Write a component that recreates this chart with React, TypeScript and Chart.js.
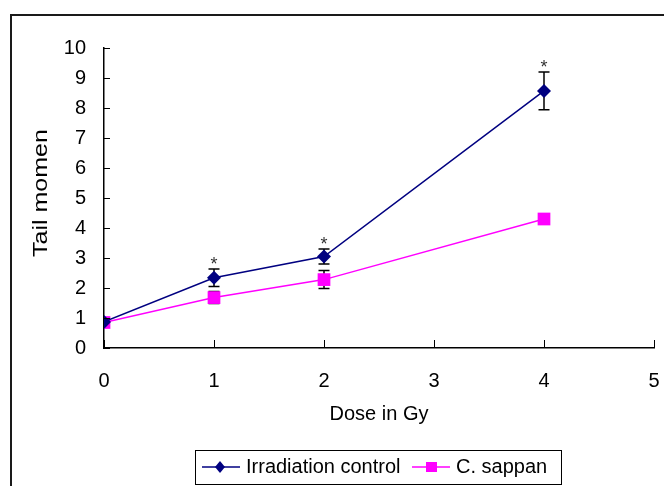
import React, { useEffect, useRef } from "react";
import { Chart, registerables } from "chart.js";

Chart.register(...registerables);

const doses = [0, 1, 2, 4];
const controlValues = [0.87, 2.34, 3.05, 8.57];
const controlErrors = [0, 0.29, 0.25, 0.63];
const controlSignificant = [false, true, true, true];
const sappanValues = [0.85, 1.68, 2.28, 4.3];
const sappanErrors = [0, 0.2, 0.3, 0.15];
const yTicks = [0, 1, 2, 3, 4, 5, 6, 7, 8, 9, 10];
const xTicks = [0, 1, 2, 3, 4, 5];
const seriesNames = ["Irradiation control", "C. sappan"];
const xTitle = "Dose in Gy";
const yTitle = "Tail momen";

const FONT = "'Liberation Sans', Arial, sans-serif";
const NAVY = "#000080";
const MAGENTA = "#FF00FF";

const errorsByDataset = [controlErrors, sappanErrors];

const overlayPlugin = {
  id: "overlay",
  beforeDraw(chart: any) {
    const ctx = chart.ctx;
    ctx.save();
    ctx.fillStyle = "#fff";
    ctx.fillRect(0, 0, chart.width, chart.height);
    ctx.restore();
  },
  beforeDatasetsDraw(chart: any) {
    const ctx = chart.ctx;
    const xs = chart.scales.x;
    const ys = chart.scales.y;
    ctx.save();
    ctx.strokeStyle = "#000";
    ctx.lineWidth = 1.5;
    chart.data.datasets.forEach((ds: any, di: number) => {
      const errs = errorsByDataset[di];
      ds.data.forEach((p: any, i: number) => {
        const e = errs[i];
        if (!e) return;
        const px = xs.getPixelForValue(p.x);
        const top = ys.getPixelForValue(p.y + e);
        const bot = ys.getPixelForValue(p.y - e);
        ctx.beginPath();
        ctx.moveTo(px, top);
        ctx.lineTo(px, bot);
        ctx.moveTo(px - 5.5, top);
        ctx.lineTo(px + 5.5, top);
        ctx.moveTo(px - 5.5, bot);
        ctx.lineTo(px + 5.5, bot);
        ctx.stroke();
      });
    });
    ctx.restore();
  },
  afterDraw(chart: any) {
    const ctx = chart.ctx;
    const xs = chart.scales.x;
    const ys = chart.scales.y;
    const area = chart.chartArea;
    ctx.save();
    ctx.strokeStyle = "#000";
    ctx.lineWidth = 1;
    yTicks.forEach((v) => {
      const py = Math.round(ys.getPixelForValue(v)) + 0.5;
      ctx.beginPath();
      ctx.moveTo(area.left, py);
      ctx.lineTo(area.left + 6, py);
      ctx.stroke();
    });
    xTicks.forEach((v) => {
      const px = Math.round(xs.getPixelForValue(v)) + 0.5;
      ctx.beginPath();
      ctx.moveTo(px, area.bottom);
      ctx.lineTo(px, area.bottom - 8);
      ctx.stroke();
    });
    ctx.fillStyle = "#333";
    ctx.font = `18px ${FONT}`;
    ctx.textAlign = "center";
    ctx.textBaseline = "alphabetic";
    controlValues.forEach((v, i) => {
      if (!controlSignificant[i]) return;
      const px = xs.getPixelForValue(doses[i]);
      const py = ys.getPixelForValue(v + controlErrors[i]);
      ctx.fillText("*", px, py + 1);
    });
    // y axis title (stretched along its length like the reference)
    ctx.save();
    ctx.fillStyle = "#000";
    ctx.font = `20px ${FONT}`;
    ctx.textAlign = "center";
    ctx.textBaseline = "middle";
    ctx.translate(41, (area.top + area.bottom) / 2 - 5);
    ctx.rotate(-Math.PI / 2);
    ctx.scale(1.25, 1);
    ctx.fillText(yTitle, 0, 0);
    ctx.restore();
    // outer frame
    ctx.strokeStyle = "#1a1a1a";
    ctx.lineWidth = 2;
    ctx.beginPath();
    ctx.moveTo(11, chart.height + 5);
    ctx.lineTo(11, 15);
    ctx.lineTo(chart.width + 5, 15);
    ctx.stroke();
    // legend
    const bx = 195.5, by = 450.5, bw = 366, bh = 34;
    ctx.lineWidth = 1;
    ctx.strokeStyle = "#000";
    ctx.strokeRect(bx, by, bw, bh);
    const cy = 467;
    ctx.strokeStyle = NAVY;
    ctx.lineWidth = 1.5;
    ctx.beginPath();
    ctx.moveTo(202, cy);
    ctx.lineTo(240, cy);
    ctx.stroke();
    ctx.fillStyle = NAVY;
    ctx.beginPath();
    ctx.moveTo(220, cy - 6);
    ctx.lineTo(225, cy);
    ctx.lineTo(220, cy + 6);
    ctx.lineTo(215, cy);
    ctx.closePath();
    ctx.fill();
    ctx.fillStyle = "#000";
    ctx.font = `20px ${FONT}`;
    ctx.textAlign = "left";
    ctx.textBaseline = "middle";
    ctx.fillText(seriesNames[0], 246, cy);
    ctx.strokeStyle = MAGENTA;
    ctx.beginPath();
    ctx.moveTo(412, cy);
    ctx.lineTo(450, cy);
    ctx.stroke();
    ctx.fillStyle = MAGENTA;
    ctx.fillRect(426, cy - 5, 11, 10);
    ctx.fillStyle = "#000";
    ctx.fillText(seriesNames[1], 456, cy);
    ctx.restore();
  },
};

export default function App() {
  const ref = useRef<HTMLCanvasElement | null>(null);
  useEffect(() => {
    if (!ref.current) return;
    const chart = new Chart(ref.current, {
      type: "line",
      data: {
        datasets: [
          {
            label: seriesNames[0],
            data: doses.map((d, i) => ({ x: d, y: controlValues[i] })),
            borderColor: NAVY,
            backgroundColor: NAVY,
            borderWidth: 1.5,
            pointStyle: "rectRot",
            pointRadius: 7,
            pointBorderWidth: 0,
            pointBackgroundColor: NAVY,
            tension: 0,
          },
          {
            label: seriesNames[1],
            data: doses.map((d, i) => ({ x: d, y: sappanValues[i] })),
            borderColor: MAGENTA,
            backgroundColor: MAGENTA,
            borderWidth: 1.5,
            pointStyle: "rect",
            pointRadius: 9,
            pointBorderWidth: 0,
            pointBackgroundColor: MAGENTA,
            tension: 0,
          },
        ],
      },
      options: {
        responsive: false,
        animation: false,
        layout: { padding: { left: 31, right: 10, top: 48, bottom: 60 } },
        plugins: { legend: { display: false }, tooltip: { enabled: false } },
        scales: {
          x: {
            type: "linear",
            min: 0,
            max: 5,
            afterFit: (s: any) => {
              s.height = 78;
              s.paddingLeft = 0;
              s.paddingRight = 0;
            },
            ticks: {
              stepSize: 1,
              color: "#000",
              font: { family: FONT, size: 20 },
              padding: 21,
              maxRotation: 0,
            },
            grid: { display: false, drawTicks: false },
            border: { display: true, color: "#000", width: 1.5 },
            title: {
              display: true,
              text: xTitle,
              color: "#000",
              font: { family: FONT, size: 20 },
              padding: 0,
            },
          },
          y: {
            min: 0,
            max: 10,
            afterFit: (s: any) => {
              s.width = 73;
              s.paddingTop = 0;
              s.paddingBottom = 0;
            },
            ticks: {
              stepSize: 1,
              color: "#000",
              font: { family: FONT, size: 20 },
              padding: 18,
            },
            grid: { display: false, drawTicks: false },
            border: { display: true, color: "#000", width: 1.5 },
            title: { display: false, text: yTitle },
          },
        },
      },
      plugins: [overlayPlugin],
    } as any);
    return () => chart.destroy();
  }, []);
  return (
    <div style={{ position: "absolute", left: 0, top: 0, width: 664, height: 486 }}>
      <canvas ref={ref} width={664} height={486} style={{ display: "block" }} />
    </div>
  );
}
